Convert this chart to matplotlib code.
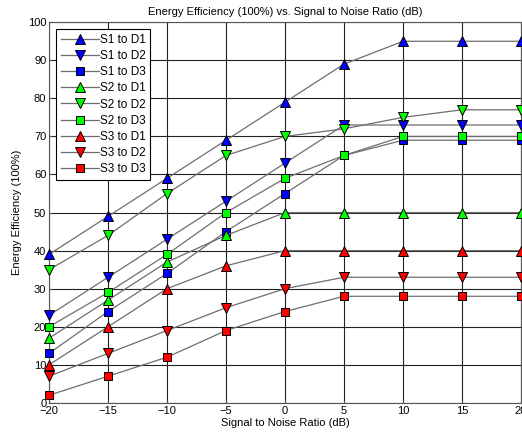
import matplotlib
matplotlib.use("Agg")
import matplotlib.pyplot as plt

snr = [-20, -15, -10, -5, 0, 5, 10, 15, 20]
labels = ["S1 to D1", "S1 to D2", "S1 to D3",
          "S2 to D1", "S2 to D2", "S2 to D3",
          "S3 to D1", "S3 to D2", "S3 to D3"]
s1_d1 = [39, 49, 59, 69, 79, 89, 95, 95, 95]
s1_d2 = [23, 33, 43, 53, 63, 73, 73, 73, 73]
s1_d3 = [13, 24, 34, 45, 55, 65, 69, 69, 69]
s2_d1 = [17, 27, 37, 44, 50, 50, 50, 50, 50]
s2_d2 = [35, 44, 55, 65, 70, 72, 75, 77, 77]
s2_d3 = [20, 29, 39, 50, 59, 65, 70, 70, 70]
s3_d1 = [10, 20, 30, 36, 40, 40, 40, 40, 40]
s3_d2 = [7, 13, 19, 25, 30, 33, 33, 33, 33]
s3_d3 = [2, 7, 12, 19, 24, 28, 28, 28, 28]
series = [s1_d1, s1_d2, s1_d3, s2_d1, s2_d2, s2_d3, s3_d1, s3_d2, s3_d3]
colors = ["#0000ff"] * 3 + ["#00ff00"] * 3 + ["#ff0000"] * 3
markers = ["^", "v", "s"] * 3

plt.rcParams["font.family"] = ["Liberation Sans", "DejaVu Sans"]
fig = plt.figure(figsize=(5.22, 4.36), dpi=100)
ax = fig.add_axes([0.094, 0.076, 0.904, 0.873])

for ys, lab, c, m in zip(series, labels, colors, markers):
    ax.plot(snr, ys, color="#6e6e6e", lw=0.9, marker=m, markersize=7 if m != "s" else 6,
            markerfacecolor=c, markeredgecolor="black", markeredgewidth=0.7,
            label=lab, clip_on=False, zorder=3)

ax.set_xlim(-20, 20)
ax.set_ylim(0, 100)
ax.set_xticks(snr)
ax.set_yticks(range(0, 101, 10))
ax.grid(True, color="#222222", lw=0.8)
ax.set_axisbelow(True)
ax.tick_params(direction="in", length=2, labelsize=8, pad=2, color="#555555")
for s in ax.spines.values():
    s.set_color("#555555")
ax.set_title("Energy Efficiency (100%) vs. Signal to Noise Ratio (dB)", fontsize=8, pad=5)
ax.set_xlabel("Signal to Noise Ratio (dB)", fontsize=8, labelpad=2)
ax.set_ylabel("Energy Efficiency (100%)", fontsize=8, labelpad=4)
leg = ax.legend(loc="upper left", fontsize=8.5, frameon=True, fancybox=False,
                edgecolor="black", framealpha=1, borderaxespad=0.6,
                handlelength=3.2, labelspacing=0.35, borderpad=0.4, handletextpad=0.1)
leg.get_frame().set_linewidth(0.8)

fig.savefig("out.png", dpi=100)
